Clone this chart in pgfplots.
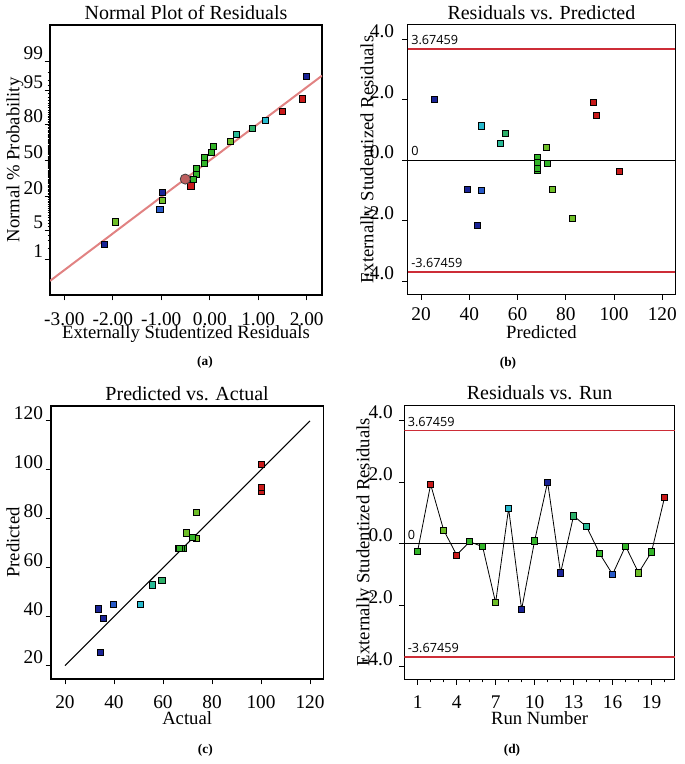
\documentclass[border=0pt]{standalone}
\usepackage{fontspec}
\setmainfont{Liberation Serif}
\newfontfamily\annfont{Open Sans}
\usepackage{pgfplots}
\usepackage{pgfplotstable}
\pgfplotsset{compat=1.18}

\definecolor{cB1}{RGB}{25,35,150}
\definecolor{cB2}{RGB}{40,90,200}
\definecolor{cC}{RGB}{40,185,205}
\definecolor{cT}{RGB}{40,185,150}
\definecolor{cT2}{RGB}{45,175,105}
\definecolor{cG}{RGB}{50,180,40}
\definecolor{cY}{RGB}{110,190,40}
\definecolor{cR}{RGB}{200,25,25}
\definecolor{limred}{RGB}{205,45,55}
\definecolor{fitline}{RGB}{225,130,130}
\definecolor{circ}{RGB}{190,95,95}

% run, predicted, actual, externally studentized residual, colour class
\pgfplotstableread{
run pred act res cls
1 68.1 66.8 -0.24 G
2 91.3 100.0 1.92 R
3 72.1 73.7 0.44 Y
4 102.2 100.0 -0.37 R
5 68.1 68.3 0.06 G
6 72.5 71.8 -0.10 G
7 82.6 73.6 -1.92 Y
8 45.0 50.6 1.14 C
9 43.2 33.6 -2.14 B1
10 68.1 68.4 0.09 G
11 25.5 34.4 2.00 B1
12 39.2 35.6 -0.95 B1
13 54.9 59.5 0.90 T2
14 53.0 55.8 0.55 T
15 68.1 66.3 -0.32 G
16 45.0 39.9 -1.00 B2
17 68.1 67.5 -0.08 G
18 74.3 69.4 -0.95 Y
19 68.1 66.6 -0.27 G
20 92.8 100.0 1.50 R
}\runs

% normal plot: residual, normal quantile, colour class
\pgfplotstableread{
x z cls
2.00 1.960 B1
1.91 1.440 R
1.50 1.150 R
1.14 0.935 C
0.885 0.755 T2
0.54 0.598 T
0.42 0.454 Y
0.074 0.319 G
0.04 0.189 G
-0.12 0.063 G
-0.12 -0.063 G
-0.27 -0.189 G
-0.285 -0.319 G
-0.33 -0.454 G
-0.39 -0.598 R
-0.98 -0.755 B1
-0.98 -0.935 Y
-1.03 -1.150 B2
-1.955 -1.440 Y
-2.17 -1.960 B1
}\normtab

\pgfplotsset{
  panel/.style={
    scale only axis,
    axis line style={line width=0.8pt},
    tick align=outside,
    xtick pos=lower, ytick pos=left,
    major tick length=4pt, minor tick length=2.2pt,
    tick style={black, line width=0.7pt},
    tick label style={font=\fontsize{14.5}{16}\selectfont},
    /pgf/number format/assume math mode=true,
    label style={font=\fontsize{14}{16}\selectfont},
    title style={font=\fontsize{15}{17}\selectfont, at={(axis description cs:0.5,1)}, anchor=center, yshift=3.5pt},
    xticklabel style={anchor=center, inner sep=0pt, yshift=-13pt},
    yticklabel style={anchor=east, inner sep=0pt, yshift=6pt},
  },
  pts/.style={
    scatter, only marks, mark=square*, mark size=2.3pt,
    scatter src=explicit symbolic,
    scatter/classes={
      B1={fill=cB1,draw=black,line width=0.5pt},
      B2={fill=cB2,draw=black,line width=0.5pt},
      C={fill=cC,draw=black,line width=0.5pt},
      T={fill=cT,draw=black,line width=0.5pt},
      T2={fill=cT2,draw=black,line width=0.5pt},
      G={fill=cG,draw=black,line width=0.5pt},
      Y={fill=cY,draw=black,line width=0.5pt},
      R={fill=cR,draw=black,line width=0.5pt}},
  },
}
\tikzset{annot/.style={anchor=south west, inner sep=0pt, xshift=2.5pt, yshift=3pt, font=\annfont\fontsize{9.5}{11}\selectfont}}

\begin{document}
\begin{tikzpicture}
\useasboundingbox (0,0) rectangle (513.75pt,573pt);

% ---------------- (a) Normal plot ----------------
\begin{axis}[panel,
  at={(37.5pt,351.75pt)}, anchor=south west,
  width=204pt, height=202.5pt,
  xmin=-3.295, xmax=2.315, ymin=-3.155, ymax=3.169,
  xtick={-3,-2,-1,0,1,2},
  xticklabel style={yshift=-1.5pt, /pgf/number format/fixed, /pgf/number format/fixed zerofill, /pgf/number format/precision=2},
  ytick={-2.326,-1.645,-0.842,0,0.842,1.645,2.326},
  yticklabels={1,5,20,50,80,95,99},
  minor ytick={-2.054,-1.881,-1.751,-1.555,-1.476,-1.405,-1.341,-1.282,-1.227,-1.175,-1.126,-1.080,-1.036,-0.994,-0.954,-0.915,-0.878,-0.806,-0.772,-0.739,-0.706,-0.674,-0.643,-0.613,-0.583,-0.553,-0.524,-0.496,-0.468,-0.440,-0.412,-0.385,-0.358,-0.332,-0.305,-0.279,-0.253,-0.228,-0.202,-0.176,-0.151,-0.126,-0.100,-0.075,-0.050,-0.025,0.025,0.050,0.075,0.100,0.126,0.151,0.176,0.202,0.228,0.253,0.279,0.305,0.332,0.358,0.385,0.412,0.440,0.468,0.496,0.524,0.553,0.583,0.613,0.643,0.674,0.706,0.739,0.772,0.806,0.878,0.915,0.954,0.994,1.036,1.080,1.126,1.175,1.227,1.282,1.341,1.405,1.476,1.555,1.751,1.881,2.054},
  minor tick length=1.8pt,
  title={Normal Plot of Residuals},
  xlabel={Externally Studentized Residuals},
  ylabel={Normal \% Probability},
  xlabel style={at={(axis description cs:0.5,-0.146)}, anchor=center},
  ylabel style={at={(axis description cs:-0.129,0.5)}, anchor=center},
  yticklabel style={xshift=-1pt},
]
\addplot[fitline, line width=1.5pt] coordinates {(-3.295,-2.825) (2.315,1.982)};
\addplot[pts] table[x=x, y=z, meta=cls] {\normtab};
\addplot[only marks, mark=*, mark size=3.8pt, mark options={fill=circ, draw=black!75, line width=0.6pt}] coordinates {(-0.505,-0.44)};
\end{axis}

% ---------------- (b) Residuals vs Predicted ----------------
\begin{axis}[panel,
  at={(305.8pt,352.3pt)}, anchor=south west,
  width=200.5pt, height=202pt,
  xmin=14.5, xmax=125.3, ymin=-4.42, ymax=4.47,
  xtick={20,40,...,120},
  xticklabel style={yshift=2pt},
  ytick={-4,-2,0,2,4},
  yticklabel style={xshift=-6pt, /pgf/number format/fixed, /pgf/number format/fixed zerofill, /pgf/number format/precision=1},
  title={Residuals vs. Predicted},
  xlabel={Predicted},
  ylabel={Externally Studentized Residuals},
  xlabel style={at={(axis description cs:0.5,-0.14)}, anchor=center},
  ylabel style={at={(axis description cs:-0.145,0.5)}, anchor=center},
]
\addplot[limred, line width=1.3pt] coordinates {(14.5,3.67459) (125.3,3.67459)};
\addplot[limred, line width=1.3pt] coordinates {(14.5,-3.67459) (125.3,-3.67459)};
\addplot[black, line width=1pt] coordinates {(14.5,0) (125.3,0)};
\node[annot] at (axis cs:14.5,3.67459) {3.67459};
\node[annot] at (axis cs:14.5,-3.67459) {-3.67459};
\node[annot] at (axis cs:14.5,0) {0};
\addplot[pts] table[x=pred, y=res, meta=cls] {\runs};
\end{axis}

% ---------------- (c) Predicted vs Actual ----------------
\begin{axis}[panel,
  at={(38.25pt,63.75pt)}, anchor=south west,
  width=204.2pt, height=204.75pt,
  xmin=14.3, xmax=125.4, ymin=14.55, ymax=126.1,
  xtick={20,40,...,120},
  ytick={20,40,...,120},
  yticklabel style={xshift=-1.8pt},
  title={Predicted vs. Actual},
  xlabel={Actual},
  ylabel={Predicted},
  xlabel style={at={(axis description cs:0.5,-0.143)}, anchor=center},
  ylabel style={at={(axis description cs:-0.14,0.5)}, anchor=center},
]
\addplot[black, line width=0.8pt] coordinates {(20,20) (120,120)};
\addplot[pts] table[x=act, y=pred, meta=cls] {\runs};
\end{axis}

% ---------------- (d) Residuals vs Run ----------------
\begin{axis}[panel,
  at={(303.2pt,63.5pt)}, anchor=south west,
  width=203pt, height=205.7pt,
  xmin=-0.03, xmax=20.8, ymin=-4.41, ymax=4.5,
  xtick={1,4,...,19},
  minor xtick={2,3,5,6,8,9,11,12,14,15,17,18,20},
  ytick={-4,-2,0,2,4},
  yticklabel style={xshift=-4.5pt, /pgf/number format/fixed, /pgf/number format/fixed zerofill, /pgf/number format/precision=1},
  title={Residuals vs. Run},
  xlabel={Run Number},
  ylabel={Externally Studentized Residuals},
  xlabel style={at={(axis description cs:0.5,-0.141)}, anchor=center},
  ylabel style={at={(axis description cs:-0.145,0.5)}, anchor=center},
]
\addplot[limred, line width=1.3pt] coordinates {(-0.03,3.67459) (20.8,3.67459)};
\addplot[limred, line width=1.3pt] coordinates {(-0.03,-3.67459) (20.8,-3.67459)};
\addplot[black, line width=1pt] coordinates {(-0.03,0) (20.8,0)};
\node[annot] at (axis cs:-0.03,3.67459) {3.67459};
\node[annot] at (axis cs:-0.03,-3.67459) {-3.67459};
\node[annot] at (axis cs:-0.03,0) {0};
\addplot[black, line width=0.6pt] table[x=run, y=res] {\runs};
\addplot[pts] table[x=run, y=res, meta=cls] {\runs};
\end{axis}

\node[font=\bfseries\fontsize{10}{12}\selectfont] at (153.75pt,301.5pt) {(a)};
\node[font=\bfseries\fontsize{10}{12}\selectfont] at (381pt,300.75pt) {(b)};
\node[font=\bfseries\fontsize{10}{12}\selectfont] at (154pt,10.5pt) {(c)};
\node[font=\bfseries\fontsize{10}{12}\selectfont] at (384pt,10.5pt) {(d)};
\end{tikzpicture}
\end{document}
